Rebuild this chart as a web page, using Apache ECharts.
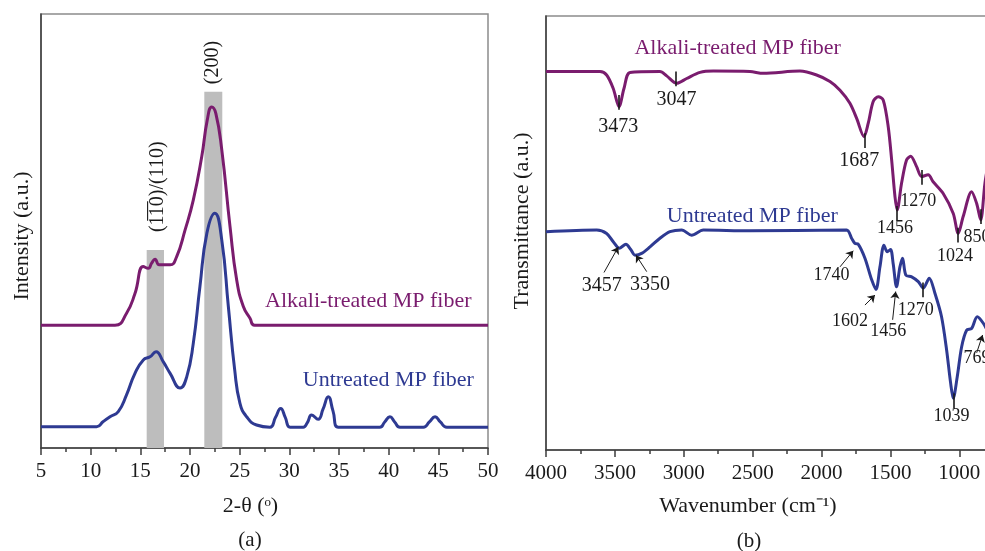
<!DOCTYPE html>
<html><head><meta charset="utf-8">
<script src="https://cdn.jsdelivr.net/npm/echarts/dist/echarts.min.js"></script>
<style>html,body{margin:0;padding:0;background:#fff;overflow:hidden}#c{width:1030px;height:551px}</style>
</head><body><div id="c"></div>
<script>
// ---------- DATA ----------
// (a) XRD, 2-theta (deg) vs intensity (a.u., arbitrary 0-100 scale)
const xrdUntreatedTheta = [5, 8, 10.6, 11.27, 11.95, 12.78, 13.6, 14.46, 15.3, 15.97, 16.58, 17.3, 18.0, 19.0, 19.67, 20.33, 21.0, 21.7, 22.5, 23.2, 23.86, 24.5, 25.03, 25.7, 26.7, 28.05, 28.6, 29.13, 29.6, 30.07, 31.4, 31.8, 32.25, 32.9, 33.4, 33.92, 34.4, 34.93, 39.1, 39.6, 40.13, 40.6, 41.14, 43.5, 44.1, 44.67, 45.2, 45.85, 50];
const xrdUntreatedInt   = [4.9, 4.9, 4.9, 6.1, 7.2, 8.4, 12.2, 17.2, 20.3, 21.0, 22.2, 19.9, 17.2, 13.8, 16.4, 24.1, 37.2, 49.5, 54.1, 47.9, 32.6, 18.0, 10.3, 7.2, 5.3, 4.8, 7.0, 9.1, 7.0, 4.8, 4.8, 5.8, 7.6, 6.6, 9.0, 11.8, 8.5, 4.8, 4.8, 6.0, 7.2, 6.0, 4.8, 4.8, 6.0, 7.2, 6.0, 4.8, 4.8];
const xrdAlkaliTheta = [5, 12.45, 13.6, 14.46, 15.3, 15.8, 16.14, 16.48, 16.9, 18.0, 18.66, 19.5, 20.33, 21.18, 21.74, 22.18, 22.6, 23.2, 24.03, 24.7, 25.37, 26.04, 26.5, 50];
const xrdAlkaliInt   = [28.3, 28.3, 31.0, 35.6, 41.8, 41.4, 42.6, 43.5, 42.2, 42.2, 44.1, 50.2, 57.1, 67.1, 75.6, 78.6, 77.1, 68.7, 51.0, 38.7, 32.6, 29.9, 28.3, 28.3];
// crystalline plane bands: [from, to, top]
const xrdBands = [[15.64, 17.38, 45.6], [21.44, 23.25, 82.1]];
const xrdBandLabels = ['(1\u03051\u03050)/(110)', '(200)'];

// (b) FTIR, wavenumber (cm-1) vs transmittance (a.u.)
const ftirAlkaliWn = [4000, 3608, 3560, 3512, 3470, 3434, 3390, 3173, 3124, 3051, 2979, 2882, 2786, 2520, 2423, 2157, 2036, 1939, 1866, 1794, 1745, 1692, 1661, 1625, 1588, 1552, 1516, 1491, 1467, 1451, 1419, 1383, 1353, 1310, 1274, 1226, 1190, 1117, 1044, 1008, 972, 911, 874, 845, 814, 790];
const ftirAlkaliT  = [87.2, 87.2, 86.4, 83.3, 79.1, 83.3, 87.0, 87.2, 86.2, 84.5, 85.6, 87.0, 87.3, 87.2, 86.8, 87.3, 86.4, 84.9, 82.9, 79.9, 76.4, 72.2, 75.3, 80.3, 81.4, 80.6, 74.5, 66.8, 58.4, 55.3, 61.5, 66.8, 67.7, 65.3, 63.0, 63.4, 61.8, 59.1, 54.5, 49.9, 53.8, 59.5, 56.8, 53.0, 61.5, 66.0];
const ftirUntreatedWn = [4000, 3632, 3560, 3512, 3468, 3420, 3385, 3354, 3306, 3245, 3173, 3100, 3015, 2943, 2858, 2520, 1818, 1782, 1758, 1733, 1685, 1636, 1605, 1576, 1547, 1523, 1499, 1480, 1456, 1431, 1412, 1388, 1346, 1298, 1262, 1218, 1177, 1129, 1092, 1063, 1044, 1015, 983, 947, 911, 870, 826, 790];
const ftirUntreatedT  = [50.3, 50.7, 49.9, 48.0, 46.5, 47.4, 46.2, 44.9, 45.3, 46.8, 48.8, 50.3, 50.7, 49.5, 50.7, 50.5, 50.7, 48.8, 47.6, 47.4, 44.2, 39.2, 37.0, 42.2, 47.2, 45.7, 46.2, 42.9, 37.6, 42.2, 44.2, 40.3, 39.9, 38.8, 37.3, 39.6, 36.1, 30.7, 23.0, 15.4, 11.9, 16.9, 23.8, 27.6, 28.0, 30.7, 29.2, 27.0];
const alkaliPeakLabels    = ['3473', '3047', '1687', '1456', '1270', '1024', '850'];
const untreatedPeakLabels = ['3457', '3350', '1740', '1602', '1456', '1270', '1039', '769'];
const xTicksA = [5, 10, 15, 20, 25, 30, 35, 40, 45, 50];
const xTicksB = [4000, 3500, 3000, 2500, 2000, 1500, 1000, 500];

// ---------- LAYOUT / STYLE ----------
const FONT = 'Liberation Serif';
const PURPLE = '#7a1c6e', BLUE = '#2e3a92', INK = '#1a1a1a';
const pairs = (xs, ys) => xs.map((x, i) => [x, ys[i]]);

// annotation anchor positions (data units) for panel b
const alkaliTickPos = [[3470, 80.1], [3057, 85.5], [1690, 71.3], [1451, 54.5], [1274, 62.8], [1008, 49.5], [845, 53.8]];
const alkaliLabelPos = [[3475, 74.4, 20], [3052, 80.6, 20], [1726, 66.7, 20], [1467, 51.1, 18], [1298, 57.4, 18], [1032, 44.7, 18], [872, 49.1, 18]];
const untreatedLabelPos = [[3596, 37.8, 20], [3245, 38.0, 20], [1927, 40.3, 18], [1794, 29.6, 18], [1516, 27.3, 18], [1317, 32.3, 18], [1056, 7.8, 18], [872, 21.2, 18]];
const untreatedArrows = [[3579, 40.9, 3475, 46.8], [3269, 41.1, 3347, 44.9], [1866, 42.2, 1770, 45.9], [1685, 33.4, 1612, 35.7], [1484, 30.0, 1462, 36.5], [874, 22.4, 831, 26.5]];
const untreatedTickPos = [[1262, 36.9], [1044, 11.4]];
const TICK_HALF = 1.7;

function tickLines(list) {
  return list.map(([w, v]) => [
    {coord: [w, v + TICK_HALF], symbol: 'none'},
    {coord: [w, v - TICK_HALF], symbol: 'none', lineStyle: {color: INK, width: 1.6, type: 'solid'}}
  ]);
}
function arrowLines(list) {
  return list.map(([x1, y1, x2, y2]) => [
    {coord: [x1, y1], symbol: 'none'},
    {coord: [x2, y2], symbol: 'arrow', symbolSize: 7, lineStyle: {color: INK, width: 1, type: 'solid'}}
  ]);
}
function textPoints(labels, pos) {
  return labels.map((t, i) => ({
    coord: [pos[i][0], pos[i][1]],
    symbol: 'circle', symbolSize: 1, itemStyle: {color: 'rgba(0,0,0,0)'},
    label: {show: true, position: 'inside', formatter: t, color: INK, fontFamily: FONT, fontSize: pos[i][2]}
  }));
}

const axisLineStyle = {color: '#3c3c3c', width: 1.5};
function xAxisCommon(extra) {
  return Object.assign({
    type: 'value',
    axisLine: {show: true, onZero: false, lineStyle: axisLineStyle},
    axisTick: {show: true, inside: false, length: 7, lineStyle: axisLineStyle},
    minorTick: {show: true, splitNumber: 2, length: 4, lineStyle: axisLineStyle},
    axisLabel: {fontFamily: FONT, fontSize: 21, color: INK, margin: 13, formatter: v => String(v)},
    splitLine: {show: false}, minorSplitLine: {show: false}
  }, extra);
}
function yAxisCommon(gi) {
  return {gridIndex: gi, type: 'value', min: 0, max: 100,
    axisLine: {show: true, onZero: false, lineStyle: axisLineStyle},
    axisTick: {show: false}, axisLabel: {show: false}, splitLine: {show: false}};
}
function txt(x, y, text, size, color, rot) {
  return {type: 'text', x: x, y: y, rotation: rot || 0, silent: true,
    style: {text: text, fontFamily: FONT, fontSize: size, fill: color, align: 'center', verticalAlign: 'middle'}};
}

const chart = echarts.init(document.getElementById('c'), null, {renderer: 'canvas'});
chart.setOption({
  animation: false,
  backgroundColor: '#fff',
  grid: [
    {left: 41, right: 542, top: 14, bottom: 103, show: true, borderColor: '#8c8c8c', borderWidth: 1.5, outerBoundsMode: 'none', containLabel: false},
    {left: 546, right: 1.8, top: 16, bottom: 101, show: true, borderColor: '#8c8c8c', borderWidth: 1.5, outerBoundsMode: 'none', containLabel: false}
  ],
  xAxis: [
    xAxisCommon({gridIndex: 0, min: xTicksA[0], max: xTicksA[xTicksA.length - 1], interval: 5}),
    xAxisCommon({gridIndex: 1, min: xTicksB[xTicksB.length - 1], max: xTicksB[0], interval: 500, inverse: true})
  ],
  yAxis: [yAxisCommon(0), yAxisCommon(1)],
  series: [
    {
      type: 'line', xAxisIndex: 0, yAxisIndex: 0, z: 1, data: [], silent: true,
      markArea: {silent: true, itemStyle: {color: '#bdbdbd', opacity: 1},
        data: xrdBands.map(b => [{coord: [b[0], 0]}, {coord: [b[1], b[2]]}])},
      markPoint: {silent: true, data: xrdBandLabels.map((t, i) => ({
        coord: i === 0 ? [16.78, 60.2] : [22.27, 88.8],
        symbol: 'circle', symbolSize: 1, itemStyle: {color: 'rgba(0,0,0,0)'},
        label: {show: true, position: 'inside', rotate: 90, formatter: t, color: INK, fontFamily: FONT, fontSize: 20}
      }))}
    },
    {type: 'line', name: 'Alkali-treated MP fiber', xAxisIndex: 0, yAxisIndex: 0, z: 3,
      data: pairs(xrdAlkaliTheta, xrdAlkaliInt), showSymbol: false, smooth: 0.5,
      lineStyle: {color: PURPLE, width: 3}},
    {type: 'line', name: 'Untreated MP fiber', xAxisIndex: 0, yAxisIndex: 0, z: 3,
      data: pairs(xrdUntreatedTheta, xrdUntreatedInt), showSymbol: false, smooth: 0.5,
      lineStyle: {color: BLUE, width: 3}},
    {type: 'line', name: 'Alkali-treated MP fiber', xAxisIndex: 1, yAxisIndex: 1, z: 3,
      data: pairs(ftirAlkaliWn, ftirAlkaliT), showSymbol: false, smooth: 0.3,
      lineStyle: {color: PURPLE, width: 3},
      markLine: {silent: true, animation: false, label: {show: false}, symbol: 'none',
        lineStyle: {color: INK, width: 1.6, type: 'solid'}, data: tickLines(alkaliTickPos)},
      markPoint: {silent: true, data: textPoints(alkaliPeakLabels, alkaliLabelPos)}},
    {type: 'line', name: 'Untreated MP fiber', xAxisIndex: 1, yAxisIndex: 1, z: 3,
      data: pairs(ftirUntreatedWn, ftirUntreatedT), showSymbol: false, smooth: 0.3,
      lineStyle: {color: BLUE, width: 3},
      markLine: {silent: true, animation: false, label: {show: false}, symbol: 'none',
        lineStyle: {color: INK, width: 1.6, type: 'solid'},
        data: tickLines(untreatedTickPos).concat(arrowLines(untreatedArrows))},
      markPoint: {silent: true, data: textPoints(untreatedPeakLabels, untreatedLabelPos)}}
  ],
  graphic: [
    txt(22, 236, 'Intensity (a.u.)', 22, INK, Math.PI / 2),
    txt(250.5, 506.7, '2-\u03B8 (\u1D52)', 22, INK),
    txt(250, 540, '(a)', 21, INK),
    txt(522.5, 221, 'Transmittance (a.u.)', 22, INK, Math.PI / 2),
    txt(748, 506.7, 'Wavenumber (cm\u207B\u00B9)', 22, INK),
    txt(749, 541.7, '(b)', 21, INK),
    txt(368.3, 301.7, 'Alkali-treated MP fiber', 22, PURPLE),
    txt(388.3, 380, 'Untreated MP fiber', 22, BLUE),
    txt(737.7, 48.3, 'Alkali-treated MP fiber', 22, PURPLE),
    txt(752.3, 216.7, 'Untreated MP fiber', 22, BLUE)
  ]
});
</script></body></html>
